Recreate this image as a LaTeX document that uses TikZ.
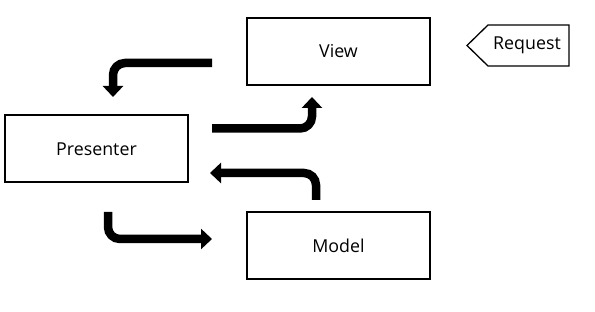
\documentclass[tikz,border=0pt]{standalone}
\usepackage{fontspec}
\setmainfont{Open Sans}
\usetikzlibrary{arrows.meta}
\begin{document}
\begin{tikzpicture}[x=1pt,y=-1pt,
  lbl/.style={font=\fontsize{17.8}{20}\selectfont},
  box/.style={draw,line width=2pt,minimum width=183pt,minimum height=67pt,inner sep=0pt,lbl},
  flow/.style={line width=8.5pt,rounded corners=12pt,-{Triangle[width=20pt,length=11pt]}},
]
\useasboundingbox (0,0) rectangle (595,312);
\node[box] (view) at (338.5,51.5) {View};
\node[box] (presenter) at (96.5,149) {Presenter};
\node[box] (model) at (338.5,246) {Model};
\draw[line width=1.3pt,line join=miter] (467,45.5) -- (488,25) -- (569,25) -- (569,66) -- (488,66) -- cycle;
\node[lbl] (request) at (527,45.5) {Request};
\coordinate (a1s) at (212,63);
\coordinate (a1m) at (113,63);
\coordinate (a1e) at (113,97);
\coordinate (a2s) at (212,128.5);
\coordinate (a2m) at (312,128.5);
\coordinate (a2e) at (312,97);
\coordinate (a3s) at (316,200);
\coordinate (a3m) at (316,173);
\coordinate (a3e) at (210,173);
\coordinate (a4s) at (108,212);
\coordinate (a4m) at (108,239);
\coordinate (a4e) at (212,239);
\draw[flow] (a1s) -- (a1m) -- (a1e);
\draw[flow] (a2s) -- (a2m) -- (a2e);
\draw[flow] (a3s) -- (a3m) -- (a3e);
\draw[flow] (a4s) -- (a4m) -- (a4e);
\end{tikzpicture}
\end{document}
